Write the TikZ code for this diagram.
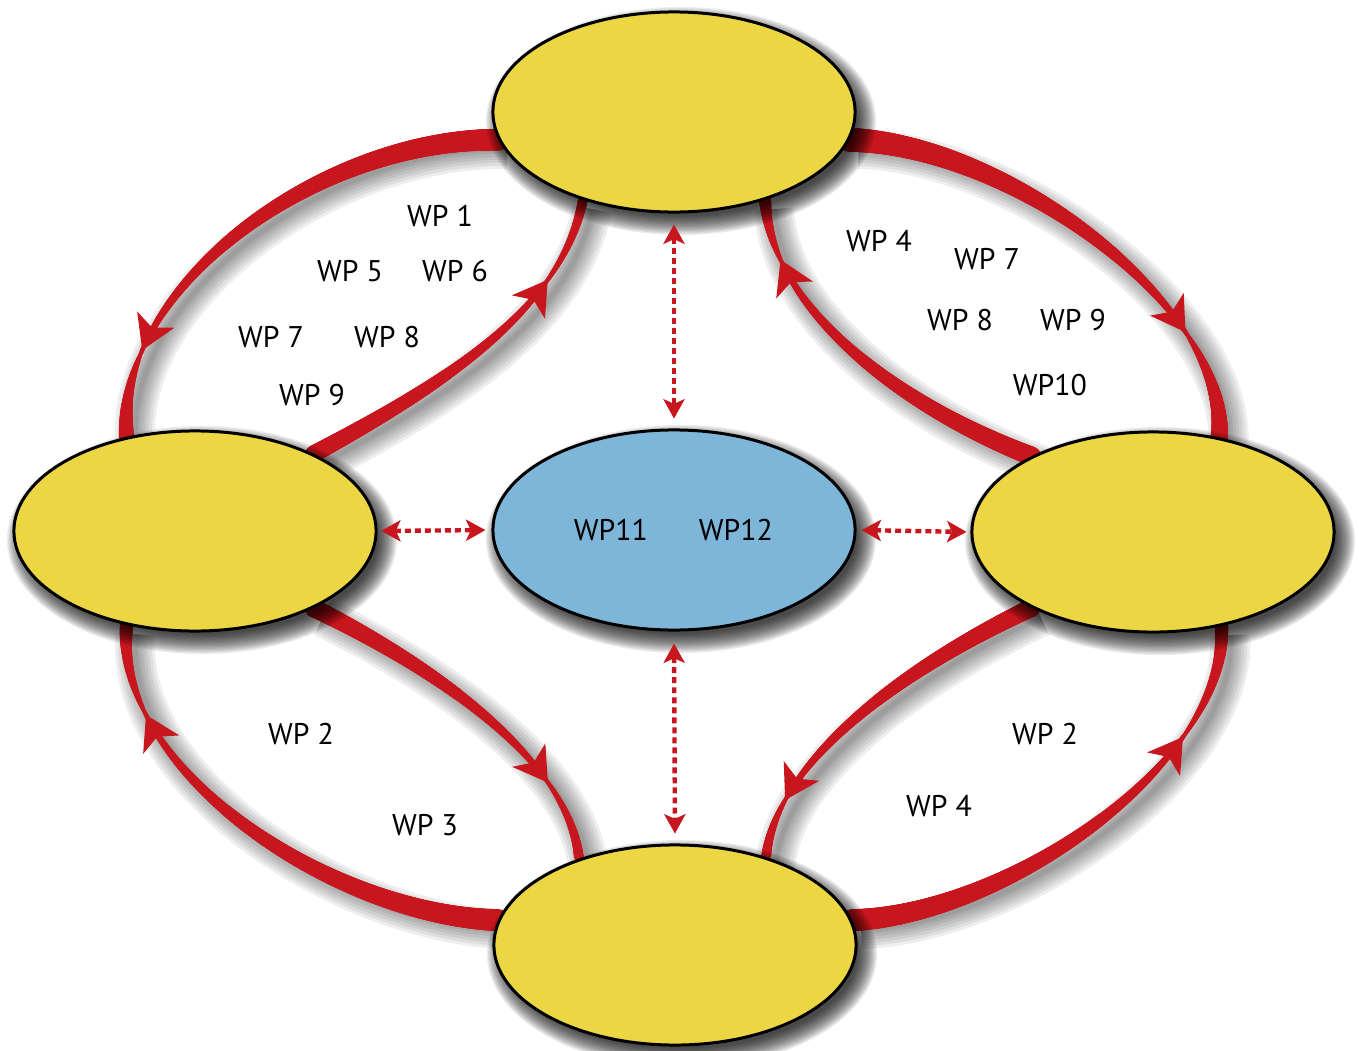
\documentclass[tikz,border=0pt]{standalone}
\usepackage{fontspec}
\setmainfont{PT Sans}
\usetikzlibrary{shapes.geometric, arrows.meta, decorations.markings, calc}
\definecolor{ylw}{RGB}{236,214,68}
\definecolor{blu}{RGB}{126,182,217}
\definecolor{arcred}{RGB}{200,22,30}
\pgfdeclarelayer{arcshadow}
\pgfdeclarelayer{arcs}
\pgfdeclarelayer{nodeshadow}
\pgfsetlayers{arcshadow,arcs,nodeshadow,main}
\tikzset{
  blob/.style={ellipse, draw=black, line width=0.85pt, minimum width=3.62cm, minimum height=2cm, inner sep=0pt},
  wp/.style={font=\fontsize{8.5}{10}\selectfont, inner sep=0pt},
  dtip/.tip={Stealth[length=5.5pt,width=6pt,inset=1.3pt]},
  arcarrow/.tip={Stealth[length=9.5pt,width=11.5pt,inset=2.5pt]},
  dotarrow/.style={draw=arcred, line width=1.25pt, dash pattern=on 1.7pt off 1.15pt, dtip-dtip},
  brush/.style n args={4}{
    postaction={decorate, decoration={markings,
      mark=between positions 0 and 1 step 0.002 with {%
        \pgfsetfillcolor{arcred}%
        \pgfmathsetmacro\ff{\pgfkeysvalueof{/pgf/decoration/mark info/distance from start}/\pgfdecoratedpathlength}%
        \pgfmathsetmacro\ga{max(1-\ff/#3,0.0001)}%
        \pgfmathsetmacro\gb{max((\ff-#3)/(1-#3),0.0001)}%
        \pgfmathsetmacro\ww{\ff<#3 ? (#2+(#1-#2)*\ga^0.75) : (#2+(#4-#2)*\gb^0.9)}%
        \pgfmathsetmacro\rr{\ww*0.1423}%
        \pgfpathcircle{\pgfpointorigin}{\rr pt}%
        \pgfusepath{fill}}}},
    postaction={decorate, decoration={markings,
      mark=at position #3 with {\arrow[color=arcred]{arcarrow}}}}},
}
\newcommand\wparc[8]{%
  \begin{pgfonlayer}{arcshadow}
    \foreach \lw in {40,34,28,22,16,10,5}{%
      \draw[black, opacity=0.065, line width=\lw*0.2845pt, transform canvas={shift={(9,9)}}] #1 .. controls #2 and #3 .. #4;}
  \end{pgfonlayer}
  \begin{pgfonlayer}{arcs}
    \path[brush={#5}{#6}{#7}{#8}] #1 .. controls #2 and #3 .. #4;
  \end{pgfonlayer}}
\newcommand\nshadow[1]{%
  \begin{pgfonlayer}{nodeshadow}
    \foreach \k in {0,...,15}{%
      \fill[black, opacity=0.075] ([shift={(7,9)}]#1.center) ellipse ({(1.95-0.013*\k)*1cm} and {(1.14-0.013*\k)*1cm});}
  \end{pgfonlayer}}
\begin{document}
\begin{tikzpicture}[x=0.01cm, y=-0.01cm]
\useasboundingbox (0,0) rectangle (1359,1051);
% ellipses
\node[blob, fill=ylw] (top) at (674,112) {};
\node[blob, fill=ylw] (left) at (195,531) {};
\node[blob, fill=ylw] (right) at (1153,532) {};
\node[blob, fill=ylw] (bottom) at (675,945) {};
\node[blob, fill=blu] (mid) at (674,530) {};
\nshadow{top}\nshadow{left}\nshadow{right}\nshadow{bottom}\nshadow{mid}
% red tapered arcs
\wparc{(top.189)}{($(top.189)+(-180,-2)$)}{($(left.126)+(-13,-149)$)}{(left.126)}{22}{4}{0.83}{16}
\wparc{(left.33)}{($(left.33)+(130,-70)$)}{($(top.224)+(-21,110)$)}{(top.224)}{17}{4}{0.77}{10}
\wparc{(top.351)}{($(top.351)+(162,5)$)}{($(right.55)+(10,-130)$)}{(right.55)}{24}{4}{0.78}{18}
\wparc{(right.148)}{($(right.148)+(-130,-50)$)}{($(top.316)+(6,110)$)}{(top.316)}{19}{4}{0.84}{12}
\wparc{(left.327)}{($(left.327)+(118,58)$)}{($(bottom.138)+(-10,-100)$)}{(bottom.138)}{18}{4}{0.78}{10}
\wparc{(bottom.172)}{($(bottom.172)+(-164,-5)$)}{($(left.234)+(-13,147)$)}{(left.234)}{22}{4}{0.82}{14}
\wparc{(right.212)}{($(right.212)+(-123,58)$)}{($(bottom.44)+(10,-98)$)}{(bottom.44)}{18}{4}{0.84}{10}
\wparc{(bottom.8)}{($(bottom.8)+(154,-5)$)}{($(right.306)+(8,136)$)}{(right.306)}{22}{4}{0.765}{14}
% dotted double arrows
\draw[dotarrow, shorten <=3.1pt, shorten >=2.8pt] (top.south) -- (mid.north);
\draw[dotarrow, shorten <=3.4pt, shorten >=2.8pt] (mid.south) -- (bottom.north);
\draw[dotarrow, shorten <=1pt, shorten >=1.7pt] (left.east) -- (mid.west);
\draw[dotarrow, shorten <=1.4pt, shorten >=1.1pt] (mid.east) -- (right.west);
% labels
\node[wp] (a1) at (440,216) {WP 1};
\node[wp] (a5) at (350,271) {WP 5};
\node[wp] (a6) at (455,271) {WP 6};
\node[wp] (a7) at (271,337) {WP 7};
\node[wp] (a8) at (387,337) {WP 8};
\node[wp] (a9) at (312,395) {WP 9};
\node[wp] (b4) at (879,241) {WP 4};
\node[wp] (b7) at (987,259) {WP 7};
\node[wp] (b8) at (960,320) {WP 8};
\node[wp] (b9) at (1073,320) {WP 9};
\node[wp] (b10) at (1050,385) {WP10};
\node[wp] (c2) at (301,734) {WP 2};
\node[wp] (c3) at (425,825) {WP 3};
\node[wp] (d2) at (1045,734) {WP 2};
\node[wp] (d4) at (939,806) {WP 4};
\node[wp] (m11) at (611,530) {WP11};
\node[wp] (m12) at (736,530) {WP12};
\end{tikzpicture}
\end{document}
